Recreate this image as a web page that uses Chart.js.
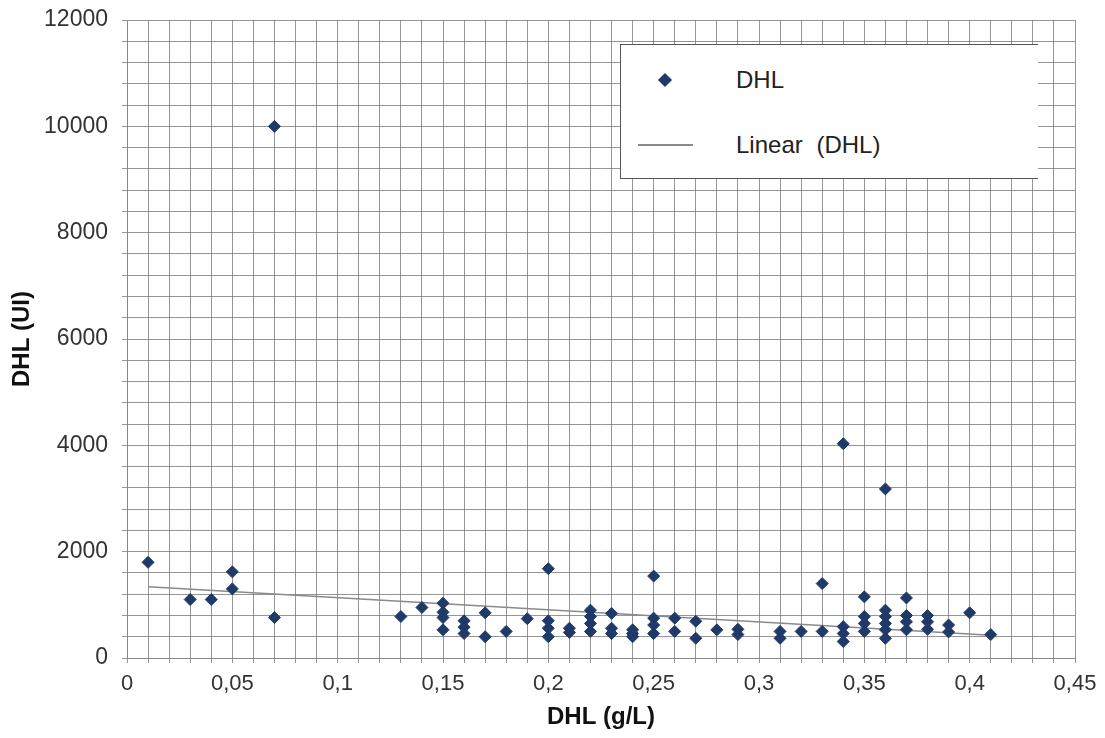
<!DOCTYPE html>
<html>
<head>
<meta charset="utf-8">
<script src="https://cdn.jsdelivr.net/npm/chart.js@4/dist/chart.umd.min.js"></script>
<style>
  html, body { margin: 0; padding: 0; background: #ffffff; }
  #wrap { position: relative; width: 1105px; height: 738px; }
  #legend {
    position: absolute; left: 620px; top: 44px; width: 417px; height: 133px;
    background: #ffffff; border: 1.5px solid #555555; border-right: none;
    font-family: "Liberation Sans", Arial, sans-serif; font-size: 24px; color: #222;
  }
  .lg-item { position: absolute; left: 0; width: 100%; height: 30px; }
  .lg-text { position: absolute; left: 115px; top: 0; line-height: 30px; word-spacing: 7px; }
  .lg-diamond { position: absolute; left: 39px; top: 10px; width: 10px; height: 10px; transform: rotate(45deg); }
  .lg-line { position: absolute; left: 17px; top: 14px; width: 55px; height: 2px; }
</style>
</head>
<body>
<div id="wrap">
  <canvas id="c" width="1105" height="738"></canvas>
  <div id="legend"></div>
</div>
<script>
// ---- Data ----
const dhlGL = [
  0.01,
  0.03,
  0.04,
  0.05, 0.05,
  0.07, 0.07,
  0.13,
  0.14,
  0.15, 0.15, 0.15, 0.15,
  0.16, 0.16, 0.16,
  0.17, 0.17,
  0.18,
  0.19,
  0.20, 0.20, 0.20, 0.20,
  0.21, 0.21,
  0.22, 0.22, 0.22, 0.22,
  0.23, 0.23, 0.23,
  0.24, 0.24, 0.24,
  0.25, 0.25, 0.25, 0.25,
  0.26, 0.26,
  0.27, 0.27,
  0.28,
  0.29, 0.29,
  0.31, 0.31,
  0.32,
  0.33, 0.33,
  0.34, 0.34, 0.34, 0.34,
  0.35, 0.35, 0.35, 0.35,
  0.36, 0.36, 0.36, 0.36, 0.36, 0.36,
  0.37, 0.37, 0.37, 0.37,
  0.38, 0.38, 0.38,
  0.39, 0.39,
  0.40,
  0.41
];
const dhlUI = [
  1800,
  1100,
  1100,
  1620, 1300,
  10000, 760,
  780,
  950,
  1030, 860, 760, 530,
  700, 580, 460,
  850, 400,
  500,
  740,
  1680, 700, 560, 400,
  560, 480,
  900, 780, 650, 500,
  840, 560, 460,
  530, 460, 400,
  1540, 750, 620, 460,
  750, 500,
  690, 370,
  530,
  540, 440,
  500, 370,
  500,
  1400, 500,
  4030, 590, 460, 310,
  1150, 780, 650, 500,
  3180, 900, 780, 650, 530, 370,
  1130, 800, 680, 530,
  800, 680, 540,
  620, 490,
  850,
  440
];
const trendX = [0.01, 0.41];
const trendY = [1340, 430];

const xTickLabels = ['0', '0,05', '0,1', '0,15', '0,2', '0,25', '0,3', '0,35', '0,4', '0,45'];
const yTickLabels = ['0', '2000', '4000', '6000', '8000', '10000', '12000'];
const seriesLabel = 'DHL';
const trendLabel = 'Linear (DHL)';
const xTitle = 'DHL (g/L)';
const yTitle = 'DHL (UI)';

// ---- Chart ----
const FONT = "'Liberation Sans', Arial, sans-serif";
const gridColor = 'rgba(105,105,105,0.7)';
const pointColor = '#1f3a68';
const trendColor = '#8a8a8a';

const scatterData = dhlGL.map((x, i) => ({ x: x, y: dhlUI[i] }));
const trendData = trendX.map((x, i) => ({ x: x, y: trendY[i] }));

const chart = new Chart(document.getElementById('c'), {
  type: 'scatter',
  data: {
    datasets: [
      {
        label: seriesLabel,
        data: scatterData,
        pointStyle: 'rectRot',
        pointRadius: 6,
        pointHoverRadius: 6,
        backgroundColor: pointColor,
        borderColor: pointColor,
        borderWidth: 1,
        order: 1
      },
      {
        label: trendLabel,
        data: trendData,
        showLine: true,
        pointRadius: 0,
        borderColor: trendColor,
        backgroundColor: trendColor,
        borderWidth: 1.5,
        fill: false,
        order: 2
      }
    ]
  },
  options: {
    responsive: false,
    animation: false,
    events: [],
    layout: { padding: { left: 0, top: 20, right: 30, bottom: 0 } },
    plugins: { legend: { display: false }, tooltip: { enabled: false } },
    scales: {
      x: {
        type: 'linear',
        min: 0,
        max: 0.45,
        afterFit: (s) => { s.height = 80; s.paddingLeft = 0; s.paddingRight = 0; },
        afterBuildTicks: (s) => {
          const t = [];
          for (let i = 0; i <= 45; i++) t.push({ value: +(i * 0.01).toFixed(2) });
          s.ticks = t;
        },
        grid: { color: gridColor, lineWidth: 1, tickLength: 5, drawTicks: true },
        border: { color: '#888888', width: 1 },
        ticks: {
          autoSkip: false,
          maxRotation: 0,
          padding: 8,
          color: '#333333',
          font: { family: FONT, size: 22 },
          callback: (v, i) => (i % 5 === 0 ? xTickLabels[i / 5] : '')
        },
        title: {
          display: true,
          text: xTitle,
          color: '#111111',
          font: { family: FONT, size: 24, weight: 'bold' },
          padding: { top: 0, bottom: 6 }
        }
      },
      y: {
        type: 'linear',
        min: 0,
        max: 12000,
        afterFit: (s) => { s.width = 127; s.paddingTop = 0; s.paddingBottom = 0; },
        afterBuildTicks: (s) => {
          const t = [];
          for (let i = 0; i <= 30; i++) t.push({ value: i * 400 });
          s.ticks = t;
        },
        grid: { color: gridColor, lineWidth: 1, tickLength: 5, drawTicks: true },
        border: { color: '#888888', width: 1 },
        ticks: {
          autoSkip: false,
          padding: 14,
          color: '#333333',
          font: { family: FONT, size: 23 },
          callback: (v) => (v % 2000 === 0 ? yTickLabels[v / 2000] : '')
        },
        title: {
          display: true,
          text: yTitle,
          color: '#111111',
          font: { family: FONT, size: 24, weight: 'bold' },
          padding: { top: 8, bottom: 0 }
        }
      }
    }
  }
});

// ---- Legend (HTML, built from the dataset labels) ----
const legend = document.getElementById('legend');
const itemTops = [20, 85];
chart.data.datasets.forEach((ds, i) => {
  const item = document.createElement('div');
  item.className = 'lg-item';
  item.style.top = itemTops[i] + 'px';
  const sym = document.createElement('div');
  if (i === 0) {
    sym.className = 'lg-diamond';
    sym.style.background = ds.backgroundColor;
  } else {
    sym.className = 'lg-line';
    sym.style.background = ds.borderColor;
  }
  const txt = document.createElement('div');
  txt.className = 'lg-text';
  txt.textContent = ds.label;
  item.appendChild(sym);
  item.appendChild(txt);
  legend.appendChild(item);
});
</script>
</body>
</html>
